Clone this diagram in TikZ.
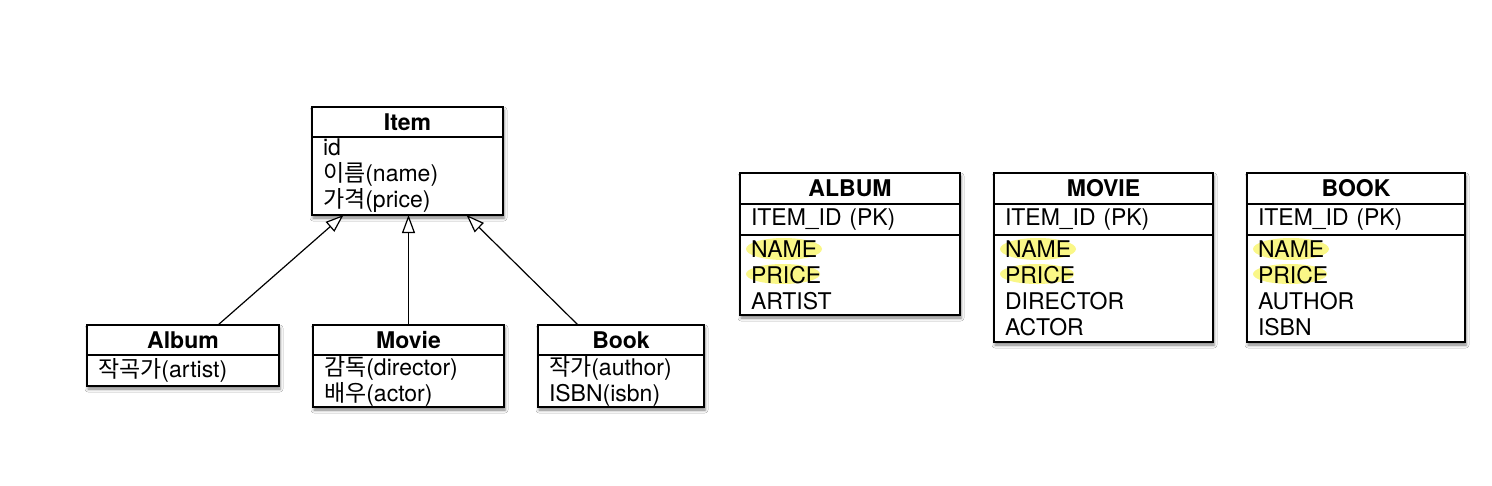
\documentclass[tikz,border=0pt]{standalone}
\usepackage{fontspec}
\setmainfont{TeX Gyre Heros}
\newfontfamily\kr{Noto Sans CJK KR}
\usetikzlibrary{positioning}
\usetikzlibrary{arrows.meta}
\usetikzlibrary{shadows.blur}
\definecolor{marker}{RGB}{250,247,135}
\pgfdeclarelayer{shadows}
\pgfdeclarelayer{hilites}
\pgfsetlayers{shadows,hilites,main}
\tikzset{%
  box/.style = {rectangle,draw,line width=1.5pt,inner sep=0pt,
        outer sep=0pt},
  headbox/.style = {box,font=\fontsize{23}{26}\selectfont\bfseries,
        minimum height=30pt,minimum width=#1},
  attrbox/.style = {box,font=\fontsize{23}{26}\selectfont,align=left,
        inner xsep=11pt,text width=#1},
  inherits/.style = {-{Triangle[open,fill=white,length=18pt,width=13pt]},
        line width=1.2pt},
  boxshadow/.style = {fill=white,blur shadow={shadow xshift=1pt,
        shadow yshift=-3pt,shadow opacity=50,shadow blur radius=3pt}},
  hilite/.style = {fill=marker}
}

\begin{document}
\begin{tikzpicture}[x=1pt,y=-1pt]
   \useasboundingbox (0,0) rectangle (1492,485);
   % class diagram
   \node[headbox=191pt,anchor=north west] (item-head) at (312,107) {Item};
   \node[attrbox=169pt,minimum height=78pt,below=0pt of item-head] (item-attr)
        {id\\{\kr 이름}(name)\\{\kr 가격}(price)};
   \node[headbox=192pt,anchor=north west] (album-head) at (87,325) {Album};
   \node[attrbox=170pt,minimum height=31pt,below=0pt of album-head] (album-attr)
        {{\kr 작곡가}(artist)};
   \node[headbox=191pt,anchor=north west] (movie-head) at (313,325) {Movie};
   \node[attrbox=169pt,minimum height=52pt,below=0pt of movie-head] (movie-attr)
        {{\kr 감독}(director)\\{\kr 배우}(actor)};
   \node[headbox=166pt,anchor=north west] (book-head) at (538,325) {Book};
   \node[attrbox=144pt,minimum height=52pt,below=0pt of book-head] (book-attr)
        {{\kr 작가}(author)\\ISBN(isbn)};
   \draw[inherits] ([xshift=35pt]album-head.north) -- ([xshift=-64pt]item-attr.south);
   \draw[inherits] (movie-head.north) -- (movie-head.north |- item-attr.south);
   \draw[inherits] ([xshift=-43pt]book-head.north) -- ([xshift=59pt]item-attr.south);
   % tables
   \node[headbox=220pt,minimum height=31pt,anchor=north west] (album-tab) at (740,173) {ALBUM};
   \node[attrbox=198pt,minimum height=31pt,below=0pt of album-tab] (album-pk) {ITEM\_ID (PK)};
   \node[attrbox=198pt,minimum height=80pt,below=0pt of album-pk] (album-cols)
        {NAME\\PRICE\\ARTIST};
   \node[headbox=219pt,minimum height=31pt,anchor=north west] (movie-tab) at (994,173) {MOVIE};
   \node[attrbox=197pt,minimum height=31pt,below=0pt of movie-tab] (movie-pk) {ITEM\_ID (PK)};
   \node[attrbox=197pt,minimum height=107pt,below=0pt of movie-pk] (movie-cols)
        {NAME\\PRICE\\DIRECTOR\\ACTOR};
   \node[headbox=218pt,minimum height=31pt,anchor=north west] (book-tab) at (1247,173) {BOOK};
   \node[attrbox=196pt,minimum height=31pt,below=0pt of book-tab] (book-pk) {ITEM\_ID (PK)};
   \node[attrbox=196pt,minimum height=107pt,below=0pt of book-pk] (book-cols)
        {NAME\\PRICE\\AUTHOR\\ISBN};
   \begin{pgfonlayer}{shadows}
      \fill[white] (0,0) rectangle (1492,485);
      \foreach \top/\bot in {item-head/item-attr,album-head/album-attr,
            movie-head/movie-attr,book-head/book-attr,album-tab/album-cols,
            movie-tab/movie-cols,book-tab/book-cols}
         \path[boxshadow] (\top.north west) rectangle (\bot.south east);
   \end{pgfonlayer}
   \begin{pgfonlayer}{hilites}
      \foreach \t in {album,movie,book} {
         \fill[hilite] ([xshift=44pt,yshift=-14pt]\t-cols.north west)
              ellipse [x radius=38pt,y radius=11pt];
         \fill[hilite] ([xshift=43pt,yshift=-39pt]\t-cols.north west)
              ellipse [x radius=37pt,y radius=10pt];
      }
   \end{pgfonlayer}
\end{tikzpicture}
\end{document}
